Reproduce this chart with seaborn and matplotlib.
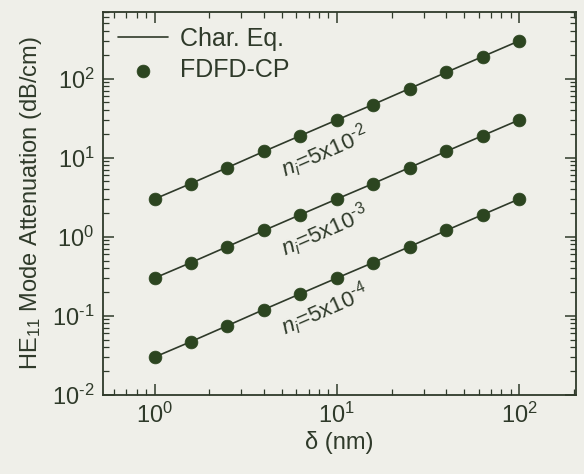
import numpy as np
import pandas as pd
import seaborn as sns
import matplotlib.pyplot as plt
import matplotlib.ticker as mticker

# values
delta_nm = [1.0, 1.58, 2.51, 3.98, 6.31, 10.0, 15.8, 25.1, 39.8, 63.1, 100.0]
att_5e2 = [3.0, 4.7, 7.5, 12.0, 19.0, 30.0, 47.0, 75.0, 120.0, 190.0, 300.0]
att_5e3 = [0.30, 0.47, 0.75, 1.2, 1.9, 3.0, 4.7, 7.5, 12.0, 19.0, 30.0]
att_5e4 = [0.030, 0.047, 0.075, 0.12, 0.19, 0.30, 0.47, 0.75, 1.2, 1.9, 3.0]
series_labels = [r"$n_i$=5x10$^{\text{-2}}$", r"$n_i$=5x10$^{\text{-3}}$", r"$n_i$=5x10$^{\text{-4}}$"]

df = pd.concat([
    pd.DataFrame({"delta": delta_nm, "att": att_5e2, "ni": "5e-2"}),
    pd.DataFrame({"delta": delta_nm, "att": att_5e3, "ni": "5e-3"}),
    pd.DataFrame({"delta": delta_nm, "att": att_5e4, "ni": "5e-4"}),
])

sns.set_style("ticks")
plt.rcParams['font.family'] = ['Liberation Sans', 'DejaVu Sans']
plt.rcParams['mathtext.fontset'] = 'custom'
plt.rcParams['mathtext.rm'] = 'Liberation Sans'
plt.rcParams['mathtext.it'] = 'Liberation Sans:italic'
plt.rcParams['axes.unicode_minus'] = False

ink = '#2f3a2a'
dot = '#2c4520'
paper = '#efefe9'

fig = plt.figure(figsize=(5.84, 4.74), dpi=100, facecolor=paper)
ax = fig.add_axes([0.176, 0.167, 0.810, 0.808])
ax.set_facecolor(paper)

for i, (name, grp) in enumerate(df.groupby("ni", sort=False)):
    sns.lineplot(data=grp, x="delta", y="att", ax=ax, color=ink, lw=1.2,
                 label="Char. Eq." if i == 0 else None, legend=False)
    sns.scatterplot(data=grp, x="delta", y="att", ax=ax, color=dot, s=85,
                    edgecolor=dot, linewidth=0.5, zorder=3,
                    label="FDFD-CP" if i == 0 else None, legend=False)

ax.set_xscale('log')
ax.set_yscale('log')
ax.set_xlim(0.52, 205)
ax.set_ylim(1e-2, 7e2)

# series labels along the lines
for vals, txt in zip([att_5e2, att_5e3, att_5e4], series_labels):
    x0 = 5.2
    y0 = np.interp(np.log10(x0), np.log10(delta_nm), np.log10(vals))
    ax.text(x0, 10 ** y0 * 0.36, txt, rotation=23.5, rotation_mode='anchor',
            ha='left', va='baseline', fontsize=16, color=ink)


def pow_label(v, pos):
    e = int(round(np.log10(v)))
    return r"10$^{\text{%d}}$" % e


ax.xaxis.set_major_locator(mticker.LogLocator(base=10, numticks=10))
ax.yaxis.set_major_locator(mticker.LogLocator(base=10, numticks=10))
ax.xaxis.set_major_formatter(mticker.FuncFormatter(pow_label))
ax.yaxis.set_major_formatter(mticker.FuncFormatter(pow_label))
ax.xaxis.set_minor_locator(mticker.LogLocator(base=10, subs=np.arange(2, 10), numticks=10))
ax.yaxis.set_minor_locator(mticker.LogLocator(base=10, subs=np.arange(2, 10), numticks=10))
ax.xaxis.set_minor_formatter(mticker.NullFormatter())
ax.yaxis.set_minor_formatter(mticker.NullFormatter())

ax.tick_params(which='both', direction='in', top=True, right=True, colors=ink,
               labelsize=17, labelcolor=ink)
ax.tick_params(which='major', length=8, width=1.1, pad=6)
ax.tick_params(which='minor', length=4, width=0.9)
for sp in ax.spines.values():
    sp.set_color(ink)
    sp.set_linewidth(1.3)

ax.set_xlabel("δ (nm)", fontsize=17, color=ink, labelpad=2)
ax.set_ylabel("HE$_{11}$ Mode Attenuation (dB/cm)", fontsize=17, color=ink, labelpad=6)

ax.legend(loc='upper left', frameon=False, fontsize=18, handlelength=2.0,
          handletextpad=0.5, borderaxespad=0.2, labelspacing=0.3,
          labelcolor=ink)

fig.savefig("out.png", dpi=100, facecolor=paper)
